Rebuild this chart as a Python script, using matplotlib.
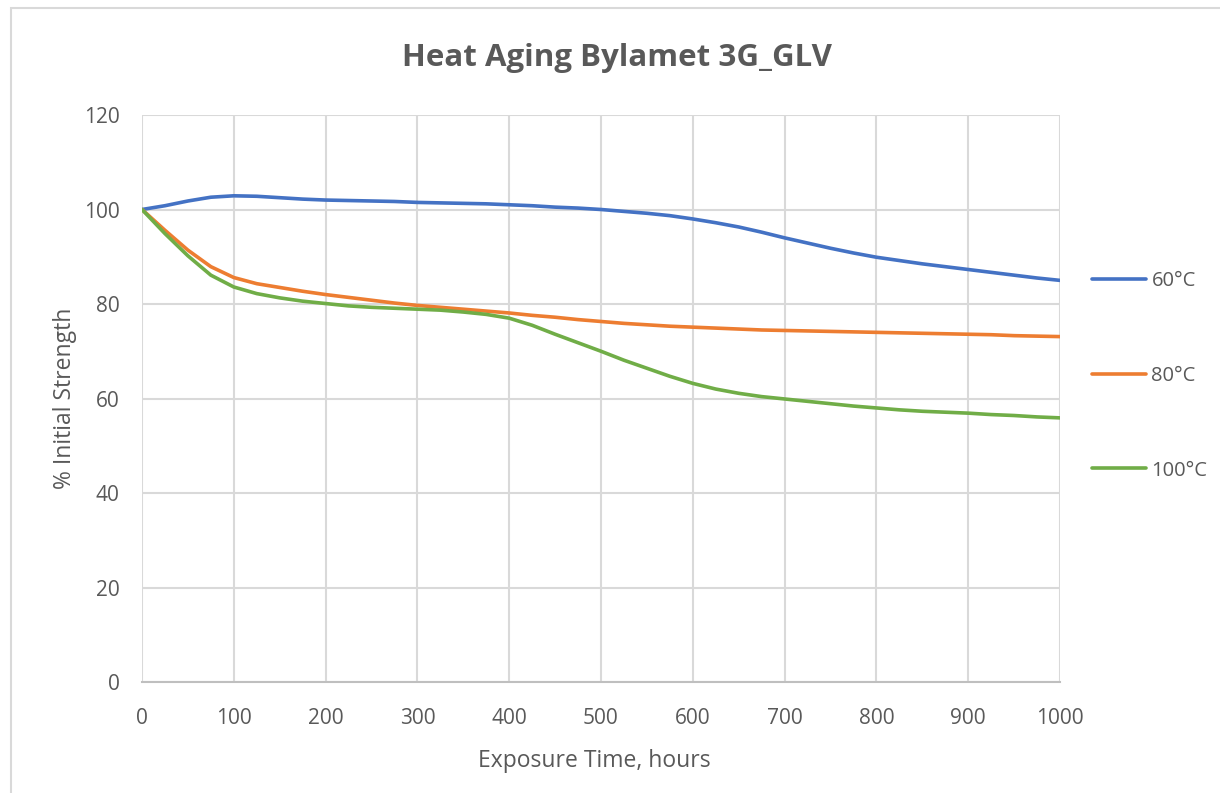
import matplotlib
matplotlib.use("Agg")
import matplotlib.pyplot as plt
from matplotlib.patches import Rectangle

hours = list(range(0, 1001, 25))
s60 = [100, 100.8, 101.8, 102.6, 102.9, 102.8, 102.5, 102.2, 102.0, 101.9, 101.8,
       101.7, 101.5, 101.4, 101.3, 101.2, 101.0, 100.8, 100.5, 100.3, 100.0,
       99.6, 99.2, 98.7, 98.0, 97.2, 96.3, 95.2, 94.0, 92.9, 91.8,
       90.8, 89.9, 89.2, 88.5, 87.9, 87.3, 86.7, 86.1, 85.5, 85.0]
s80 = [100, 95.6, 91.4, 87.9, 85.6, 84.3, 83.5, 82.7, 82.0, 81.4, 80.8,
       80.2, 79.7, 79.3, 78.9, 78.5, 78.1, 77.6, 77.2, 76.7, 76.3,
       75.9, 75.6, 75.3, 75.1, 74.9, 74.7, 74.5, 74.4, 74.3, 74.2,
       74.1, 74.0, 73.9, 73.8, 73.7, 73.6, 73.5, 73.3, 73.2, 73.1]
s100 = [100, 94.9, 90.2, 86.1, 83.6, 82.2, 81.3, 80.6, 80.1, 79.6, 79.3,
        79.1, 78.9, 78.7, 78.3, 77.8, 77.0, 75.5, 73.6, 71.8, 70.0,
        68.1, 66.4, 64.7, 63.2, 62.0, 61.1, 60.4, 59.9, 59.4, 58.9,
        58.4, 58.0, 57.6, 57.3, 57.1, 56.9, 56.6, 56.4, 56.1, 55.9]
labels = ["60°C", "80°C", "100°C"]
colors = ["#4472C4", "#ED7D31", "#70AD47"]

plt.rcParams['font.family'] = ['Open Sans', 'DejaVu Sans']
W, H = 1220, 793
fig = plt.figure(figsize=(W / 100, H / 100), dpi=100)
fig.patches.append(Rectangle((11 / W, -0.1), 1.2, 1 - 8 / H + 0.1, transform=fig.transFigure,
                             fill=False, edgecolor="#d9d9d9", linewidth=1.5))
ax = fig.add_axes([142 / W, 1 - 682 / H, (1060 - 142) / W, (682 - 115) / H])

for ys, lab, c in zip([s60, s80, s100], labels, colors):
    ax.plot(hours, ys, color=c, lw=2.6, label=lab, solid_capstyle='round',
            solid_joinstyle='round')

ax.set_xlim(0, 1000)
ax.set_ylim(0, 120)
ax.set_xticks(range(0, 1001, 100))
ax.set_yticks(range(0, 121, 20))
ax.grid(True, color="#d9d9d9", lw=1.5)
ax.set_axisbelow(True)
for s in ["top", "right", "left"]:
    ax.spines[s].set_visible(False)
ax.spines["bottom"].set_color("#bfbfbf")
ax.spines["bottom"].set_linewidth(1.5)
ax.tick_params(length=0, labelsize=15, labelcolor="#595959")
ax.tick_params(axis='y', pad=16)
ax.tick_params(axis='x', pad=19)
ax.set_xlabel("Exposure Time, hours", fontsize=16.5, color="#595959", labelpad=14)
ax.set_ylabel("% Initial Strength", fontsize=16.5, color="#595959", labelpad=5)
ax.xaxis.label.set_x((594 - 142) / (1060 - 142))

fig.text(617 / W, 1 - 58 / H, "Heat Aging Bylamet 3G_GLV", fontsize=22.5, fontweight='bold',
         color="#595959", ha='center', va='center')

fig.legend(loc='center left', bbox_to_anchor=(1092 / W, 1 - 376 / H), frameon=False,
           fontsize=14.5, labelcolor="#595959", handlelength=2.7, handletextpad=0.25,
           labelspacing=3.7, borderpad=0, borderaxespad=0)

fig.savefig("out.png", dpi=100)
